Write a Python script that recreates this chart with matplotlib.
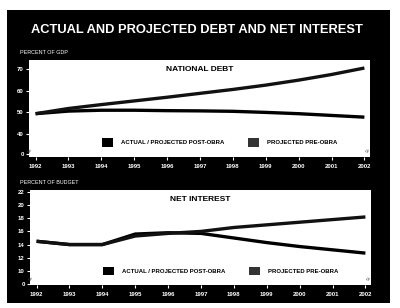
import matplotlib
matplotlib.use("Agg")
import matplotlib.pyplot as plt
from matplotlib.patches import Patch

plt.rcParams['font.family'] = ['Liberation Sans', 'DejaVu Sans']

years = [1992, 1993, 1994, 1995, 1996, 1997, 1998, 1999, 2000, 2001, 2002]
series_labels = ["ACTUAL / PROJECTED POST-OBRA", "PROJECTED PRE-OBRA"]

# National debt, percent of GDP
debt_post = [49.4, 50.6, 51.0, 51.0, 50.8, 50.7, 50.5, 50.0, 49.4, 48.6, 47.8]
debt_pre = [49.4, 51.8, 53.6, 55.3, 57.0, 58.8, 60.6, 62.6, 64.9, 67.5, 70.5]
debt_ticks = [30.8, 40, 50, 60, 70]
debt_ticklabels = ["0", "40", "50", "60", "70"]

# Net interest, percent of budget
int_post = [14.5, 14.0, 14.0, 15.6, 15.8, 15.7, 15.0, 14.3, 13.7, 13.2, 12.7]
int_pre = [14.5, 14.0, 14.0, 15.3, 15.7, 16.0, 16.6, 17.0, 17.4, 17.8, 18.2]
int_ticks = [8.0, 10, 12, 14, 16, 18, 20, 22]
int_ticklabels = ["0", "10", "12", "14", "16", "18", "20", "22"]

W, H = 400, 308
fig = plt.figure(figsize=(4.0, 3.08), dpi=100, facecolor="white")

# black background panel
bg = fig.add_axes([7 / W, 1 - 303 / H, 383 / W, 293 / H], zorder=-5)
bg.set_facecolor("black")
bg.set_xticks([])
bg.set_yticks([])
for s in bg.spines.values():
    s.set_visible(False)

fig.text(197 / W, 1 - 30 / H, "ACTUAL AND PROJECTED DEBT AND NET INTEREST",
         color="white", fontsize=9.3, fontweight="bold", ha="center", va="center")

fig.text(20 / W, 1 - 53 / H, "PERCENT OF GDP", color="white", fontsize=3.9,
         ha="left", va="center")
fig.text(20 / W, 1 - 182 / H, "PERCENT OF BUDGET", color="white", fontsize=3.9,
         ha="left", va="center")

line_colors = ["#000000", "#111111"]
legend_colors = ["#000000", "#333333"]


def make_panel(rect, post, pre, ylim, ticks, ticklabels, title, leg_y):
    ax = fig.add_axes(rect, zorder=1)
    ax.set_facecolor("white")
    ax.plot(years, post, color=line_colors[0], lw=2.4, solid_capstyle="butt", zorder=3)
    ax.plot(years, pre, color=line_colors[1], lw=2.4, solid_capstyle="butt", zorder=3)
    ax.set_xlim(1991.8, 2002.17)
    ax.set_ylim(*ylim)
    ax.set_xticks(years)
    ax.set_xticklabels([str(y) for y in years])
    ax.set_yticks(ticks)
    ax.set_yticklabels(ticklabels)
    for s in ax.spines.values():
        s.set_visible(False)
    ax.tick_params(axis="both", colors="white", labelcolor="white",
                   labelsize=4.3, length=2.5, width=0.8, pad=1.2)
    ax.tick_params(axis="x", pad=2.5)
    for lab in ax.get_xticklabels() + ax.get_yticklabels():
        lab.set_fontweight("bold")
    ax.text(0.5, 0.9, title, transform=ax.transAxes, fontsize=6.0,
            fontweight="bold", ha="center", va="center", color="black")
    handles = [Patch(facecolor=c, edgecolor="none") for c in legend_colors]
    ax.legend(handles, series_labels, loc="center left",
              bbox_to_anchor=(0.214, leg_y), ncol=2, frameon=False,
              prop={"weight": "bold", "size": 4.3},
              handlelength=1.85, handleheight=1.85, handletextpad=1.35,
              columnspacing=3.9, borderpad=0, borderaxespad=0)
    # axis break marks
    ax.text(0.004, 0.06, "≈", transform=ax.transAxes, fontsize=5, rotation=60,
            ha="center", va="center", color="#444")
    ax.text(0.996, 0.06, "≈", transform=ax.transAxes, fontsize=5, rotation=60,
            ha="center", va="center", color="#444")
    return ax


make_panel([29 / W, 1 - 157 / H, 341 / W, 97 / H], debt_post, debt_pre,
           (29.4, 74.2), debt_ticks, debt_ticklabels, "NATIONAL DEBT", 0.15)
make_panel([30 / W, 1 - 285 / H, 341 / W, 95 / H], int_post, int_pre,
           (7.85, 22.3), int_ticks, int_ticklabels, "NET INTEREST", 0.147)

fig.savefig("out.png", dpi=100, facecolor="white")
